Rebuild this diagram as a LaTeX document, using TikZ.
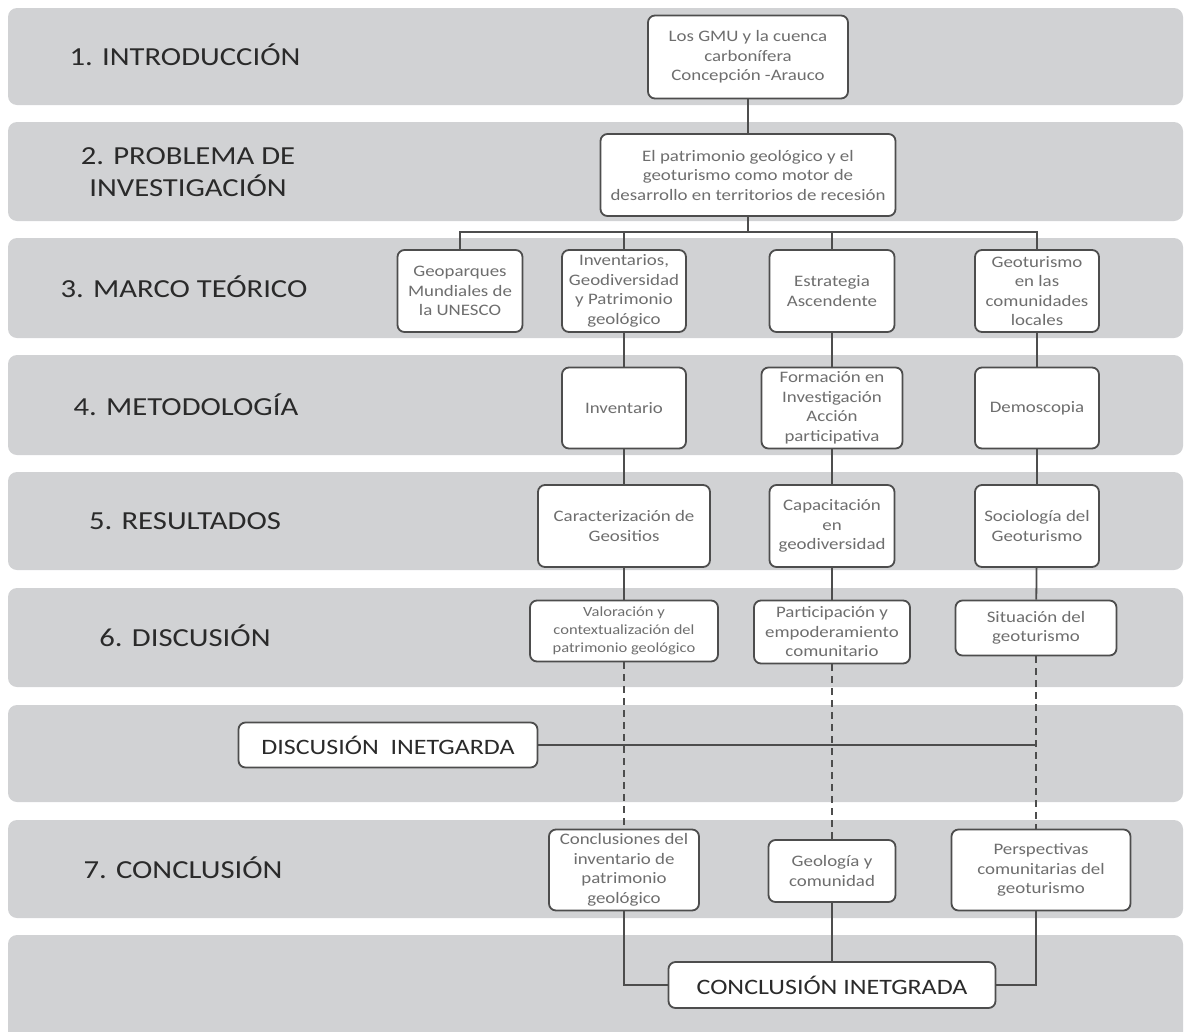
\documentclass[tikz,border=0pt]{standalone}
\usepackage{fontspec}
\setmainfont{Carlito}[FakeStretch=1.18]
\usepackage{tikz}
\definecolor{grisbanda}{HTML}{D1D2D4}
\definecolor{borde}{HTML}{4D4D4D}
\definecolor{textocaja}{HTML}{6E6E6E}
\definecolor{textoetiq}{HTML}{2A2A2A}

\begin{document}
\begin{tikzpicture}[x=1pt,y=-1pt,
  banda/.style={fill=grisbanda,rounded corners=9pt},
  etiqueta/.style={text=textoetiq,align=center,font=\fontsize{26}{32}\selectfont},
  caja/.style={draw=borde,line width=1.8pt,fill=white,rounded corners=7pt,align=center,
    text=textocaja,inner sep=2pt,font=\fontsize{16}{19.5}\selectfont},
  cajagrande/.style={caja,text=textoetiq,font=\fontsize{22}{26}\selectfont},
  linea/.style={draw=borde,line width=1.8pt},
  lineap/.style={draw=borde,line width=1.3pt,dash pattern=on 7pt off 5pt}]
\useasboundingbox (0,0) rectangle (1186,1031);
\clip (0,0) rectangle (1186,1031);
% bandas
\foreach \ya/\yb in {8/105,122/221,238/338,355/455,472/570,588/687,705/802,820/918,935/1045}
  \fill[banda] (8,\ya) rectangle (1183,\yb);
% etiquetas
\node[etiqueta] (e1) at (185,55) {1. INTRODUCCIÓN};
\node[etiqueta] (e2) at (188,172) {2. PROBLEMA DE\\INVESTIGACIÓN};
\node[etiqueta] (e3) at (184,287) {3. MARCO TEÓRICO};
\node[etiqueta] (e4) at (186,405) {4. METODOLOGÍA};
\node[etiqueta] (e5) at (185,521) {5. RESULTADOS};
\node[etiqueta] (e6) at (185,636) {6. DISCUSIÓN};
\node[etiqueta] (e7) at (183,868) {7. CONCLUSIÓN};
% cajas
\node[caja,minimum width=200pt,minimum height=83pt] (intro) at (748,57)
  {Los GMU y la cuenca\\carbonífera\\Concepción -Arauco};
\node[caja,minimum width=295pt,minimum height=82pt] (prob) at (748,175)
  {El patrimonio geológico y el\\geoturismo como motor de\\desarrollo en territorios de recesión};
\node[caja,minimum width=125pt,minimum height=82pt] (mgeo) at (460,291)
  {Geoparques\\Mundiales de\\la UNESCO};
\node[caja,minimum width=124pt,minimum height=82pt] (minv) at (624,291)
  {Inventarios,\\Geodiversidad\\y Patrimonio\\geológico};
\node[caja,minimum width=125pt,minimum height=82pt] (mest) at (832,291)
  {Estrategia\\Ascendente};
\node[caja,minimum width=124pt,minimum height=82pt] (mgeot) at (1037,291)
  {Geoturismo\\en las\\comunidades\\locales};
\node[caja,minimum width=124pt,minimum height=81pt] (inv) at (624,408) {Inventario};
\node[caja,minimum width=141pt,minimum height=81pt] (form) at (832,408)
  {Formación en\\Investigación\\Acción\\participativa};
\node[caja,minimum width=124pt,minimum height=81pt] (demo) at (1037,408) {Demoscopia};
\node[caja,minimum width=172pt,minimum height=82pt] (carac) at (624,526)
  {Caracterización de\\Geositios};
\node[caja,minimum width=125pt,minimum height=82pt] (capac) at (832,526)
  {Capacitación\\en\\geodiversidad};
\node[caja,minimum width=124pt,minimum height=82pt] (socio) at (1037,526)
  {Sociología del\\Geoturismo};
\node[caja,minimum width=188pt,minimum height=61pt,font=\fontsize{14}{18}\selectfont] (val) at (624,631)
  {Valoración y\\contextualización del\\patrimonio geológico};
\node[caja,minimum width=156pt,minimum height=63pt] (part) at (832,632)
  {Participación y\\empoderamiento\\comunitario};
\node[caja,minimum width=161pt,minimum height=55pt] (sit) at (1036,628)
  {Situación del\\geoturismo};
\node[cajagrande,minimum width=299pt,minimum height=45pt] (discint) at (388,745)
  {DISCUSIÓN~~INETGARDA};
\node[caja,minimum width=150pt,minimum height=81pt] (concinv) at (624,870)
  {Conclusiones del\\inventario de\\patrimonio\\geológico};
\node[caja,minimum width=127pt,minimum height=62pt] (geocom) at (832,871)
  {Geología y\\comunidad};
\node[caja,minimum width=179pt,minimum height=81pt] (persp) at (1041,870)
  {Perspectivas\\comunitarias del\\geoturismo};
\node[cajagrande,minimum width=327pt,minimum height=46pt] (concint) at (832,985)
  {CONCLUSIÓN INETGRADA};
% conectores
\coordinate (bar) at (748,232);
\draw[linea] (intro) -- (prob);
\draw[linea] (prob) -- (bar);
\foreach \n in {mgeo,minv,mest,mgeot}
  \draw[linea] (bar) -| (\n);
\draw[linea] (minv) -- (inv);
\draw[linea] (mest) -- (form);
\draw[linea] (mgeot) -- (demo);
\draw[linea] (inv) -- (carac);
\draw[linea] (form) -- (capac);
\draw[linea] (demo) -- (socio);
\draw[linea] (carac) -- (val);
\draw[linea] (capac) -- (part);
\draw[linea] (socio) -- (sit);
\draw[lineap] (val) -- (concinv);
\draw[lineap] (part) -- (geocom);
\draw[lineap] (sit.south) -- (sit.south |- persp.north);
\draw[linea] (discint) -- (discint -| sit);
\draw[linea] (concinv) |- (concint);
\draw[linea] (geocom) -- (concint);
\coordinate (pbase) at (sit.south |- persp.south);
\draw[linea] (pbase) |- (concint);
\end{tikzpicture}
\end{document}
